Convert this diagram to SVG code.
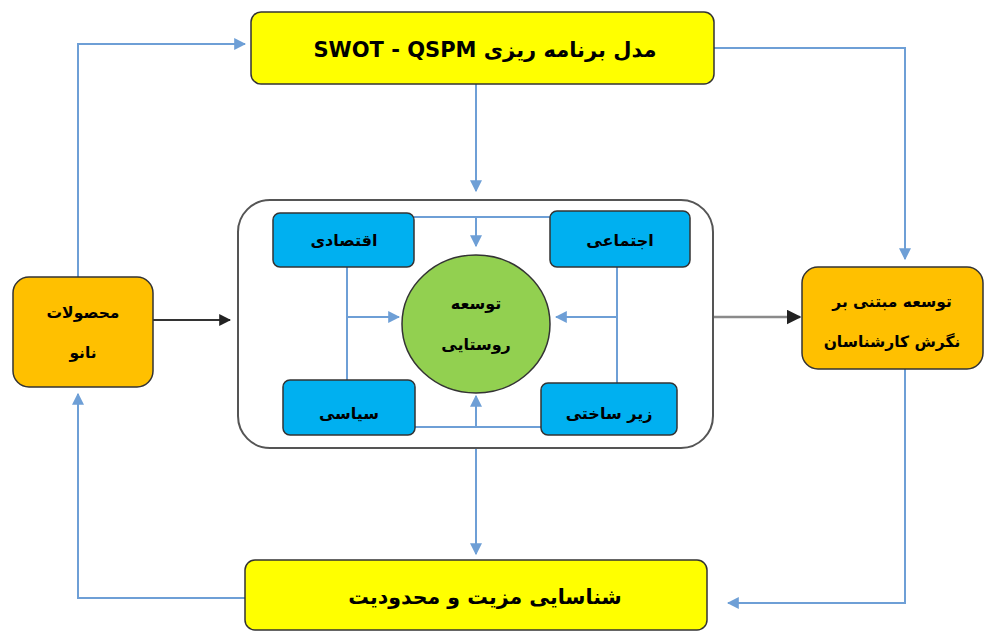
<svg xmlns="http://www.w3.org/2000/svg" width="985" height="632" viewBox="0 0 985 632">
<defs>
<style>
.t{font-family:"DejaVu Sans","Noto Sans",sans-serif;font-weight:bold;fill:#000;text-anchor:middle;direction:rtl;unicode-bidi:embed}
.ln{fill:none;stroke:#6E9FD6;stroke-width:2}
.dk{fill:none;stroke:#333;stroke-width:2}
.gr{fill:none;stroke:#8a8a8a;stroke-width:2.5}
</style>
<marker id="ab" viewBox="0 0 10 10" refX="9" refY="5" markerWidth="6" markerHeight="6" orient="auto"><path d="M0,0 L10,5 L0,10 z" fill="#6E9FD6"/></marker>
<marker id="ak" viewBox="0 0 10 10" refX="9" refY="5" markerWidth="6" markerHeight="6" orient="auto"><path d="M0,0 L10,5 L0,10 z" fill="#222"/></marker>
</defs>
<rect width="985" height="632" fill="#fff"/>
<g id="connectors">
<path class="ln" d="M476,84 V191" marker-end="url(#ab)"/>
<path class="ln" d="M714,48 H905 V259" marker-end="url(#ab)"/>
<path class="ln" d="M905,369 V603 H728" marker-end="url(#ab)"/>
<path class="ln" d="M245,598 H78 V394" marker-end="url(#ab)"/>
<path class="ln" d="M78,277 V44 H245" marker-end="url(#ab)"/>
<path class="ln" d="M476,448 V554" marker-end="url(#ab)"/>
<path class="dk" d="M153,320 H230" marker-end="url(#ak)"/>
<path class="gr" d="M713,317 H800" marker-end="url(#ak)"/>
<path class="ln" d="M414,217 H550"/>
<path class="ln" d="M476,217 V246" marker-end="url(#ab)"/>
<path class="ln" d="M347,267 V380"/>
<path class="ln" d="M347,317 H399" marker-end="url(#ab)"/>
<path class="ln" d="M617,267 V383"/>
<path class="ln" d="M617,317 H556" marker-end="url(#ab)"/>
<path class="ln" d="M415,427 H541"/>
<path class="ln" d="M476,427 V396" marker-end="url(#ab)"/>
</g>
<g id="container"><rect x="238" y="200" width="475" height="248" rx="32" fill="none" stroke="#555" stroke-width="2"/></g>
<g id="top"><rect x="251" y="12" width="463" height="72" rx="10" fill="#FFFF00" stroke="#333" stroke-width="1.5"/><text class="t" x="485" y="57" font-size="21">مدل برنامه ریزی  SWOT - QSPM</text></g>
<g id="bottom"><rect x="245" y="560" width="462" height="70" rx="10" fill="#FFFF00" stroke="#333" stroke-width="1.5"/><text class="t" x="485" y="604" font-size="20.5">شناسایی مزیت و محدودیت</text></g>
<g id="nano"><rect x="13" y="277" width="140" height="110" rx="16" fill="#FFC000" stroke="#333" stroke-width="1.5"/><text class="t" x="83" y="318" font-size="15.5">محصولات</text><text class="t" x="83" y="358" font-size="15.5">نانو</text></g>
<g id="expert"><rect x="802" y="267" width="181" height="102" rx="16" fill="#FFC000" stroke="#333" stroke-width="1.5"/><text class="t" x="892" y="307" font-size="15.5">توسعه مبتنی بر</text><text class="t" x="892" y="347" font-size="15.5">نگرش کارشناسان</text></g>
<g id="economic"><rect x="273" y="213" width="141" height="54" rx="7" fill="#00B0F0" stroke="#333" stroke-width="1.5"/><text class="t" x="344" y="246" font-size="16">اقتصادی</text></g>
<g id="social"><rect x="550" y="211" width="140" height="56" rx="7" fill="#00B0F0" stroke="#333" stroke-width="1.5"/><text class="t" x="620" y="246" font-size="16">اجتماعی</text></g>
<g id="political"><rect x="283" y="380" width="132" height="55" rx="7" fill="#00B0F0" stroke="#333" stroke-width="1.5"/><text class="t" x="349" y="419" font-size="16">سیاسی</text></g>
<g id="infra"><rect x="541" y="383" width="136" height="52" rx="7" fill="#00B0F0" stroke="#333" stroke-width="1.5"/><text class="t" x="609" y="419" font-size="16">زیر ساختی</text></g>
<g id="center"><ellipse cx="476" cy="324" rx="74" ry="69" fill="#92D050" stroke="#333" stroke-width="1.5"/><text class="t" x="476" y="309" font-size="16">توسعه</text><text class="t" x="476" y="350" font-size="16">روستایی</text></g>
</svg>
